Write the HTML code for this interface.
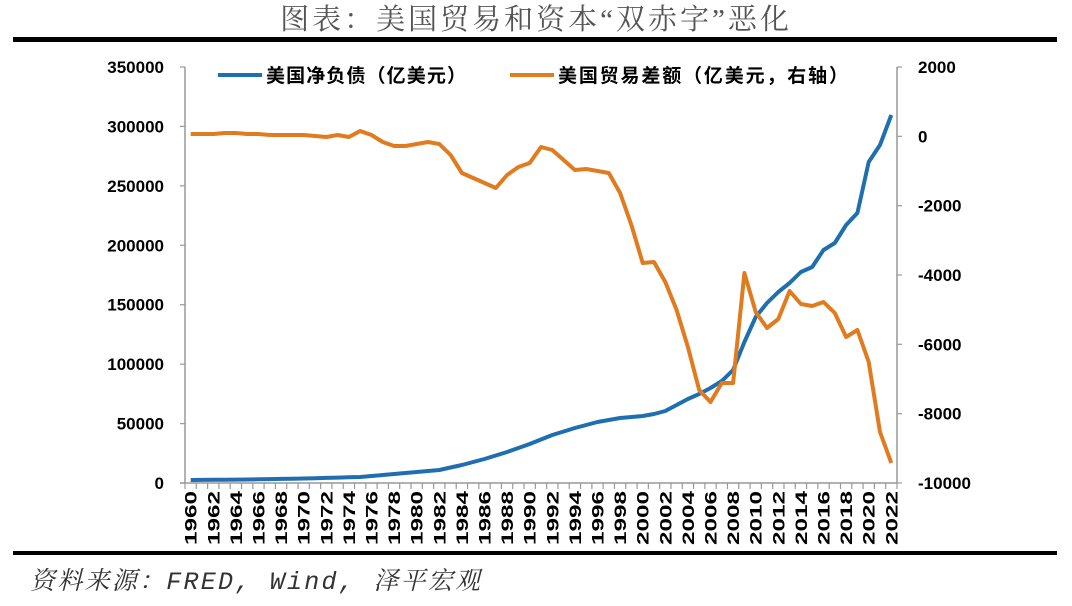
<!DOCTYPE html>
<html><head><meta charset="utf-8"><style>
body{margin:0;background:#fff;width:1072px;height:601px;overflow:hidden}
</style></head><body>
<svg width="1072" height="601" xmlns="http://www.w3.org/2000/svg" font-family="Liberation Sans, Noto Sans CJK SC, sans-serif">
<text x="536" y="29" text-anchor="middle" font-size="29" fill="#555" letter-spacing="3" font-family="Liberation Serif, Noto Serif CJK SC, serif">图表：美国贸易和资本“双赤字”恶化</text>
<rect x="13" y="37" width="1044" height="5" fill="#000"/>
<rect x="13" y="551" width="1044" height="4" fill="#000"/>
<text x="30" y="589" font-size="25" font-style="italic" fill="#333" textLength="450" font-family="Liberation Mono, Noto Serif CJK SC, monospace">资料来源：FRED, Wind, 泽平宏观</text>
<g stroke="#999" stroke-width="1.5" fill="none">
<line x1="185" y1="67" x2="185" y2="483"/>
<line x1="897" y1="67" x2="897" y2="483"/>
<line x1="180" y1="483" x2="897" y2="483"/>
</g>
<g id="tk" stroke="#999" stroke-width="1.2"></g>
<g font-size="17" font-weight="bold" fill="#000" text-anchor="end" id="yl"></g>
<g font-size="17" font-weight="bold" fill="#000" text-anchor="start" id="yr"></g>
<g font-size="17" font-weight="bold" fill="#000" id="xl"></g>
<line x1="218" y1="75" x2="262" y2="75" stroke="#1f6fb0" stroke-width="4"/>
<text x="266" y="82" font-size="19" font-weight="bold" textLength="200">美国净负债（亿美元）</text>
<line x1="510" y1="75" x2="554" y2="75" stroke="#e07b1f" stroke-width="4"/>
<text x="558" y="82" font-size="19" font-weight="bold" textLength="290">美国贸易差额（亿美元，右轴）</text>
<polyline id="bl" fill="none" stroke="#1f6fb0" stroke-width="4" stroke-linejoin="round"/>
<polyline id="or" fill="none" stroke="#e07b1f" stroke-width="4" stroke-linejoin="round"/>
</svg>
<script>
var ns="http://www.w3.org/2000/svg";
function el(p,t,a,txt){var e=document.createElementNS(ns,t);for(var k in a)e.setAttribute(k,a[k]);if(txt)e.textContent=txt;document.getElementById(p).appendChild(e);}
for(var i=0;i<=7;i++){var y=483-i*59.43;el('yl','text',{x:164,y:y+6},String(i*50000));el('tk','line',{x1:180,y1:y,x2:185,y2:y});}
for(var i=0;i<=6;i++){var y=67+i*69.33;el('yr','text',{x:918,y:y+6},String(2000-i*2000));el('tk','line',{x1:897,y1:y,x2:902,y2:y});}
var w=712/63;
for(var i=0;i<=63;i++){var x=185+i*w;el('tk','line',{x1:x,y1:483,x2:x,y2:489});}
for(var i=0;i<63;i+=2){var x=185+(i+0.5)*w+6;el('xl','text',{x:x,y:545,textLength:54,lengthAdjust:'spacingAndGlyphs',transform:'rotate(-90 '+x+' 545)'},String(1960+i));}
var B={1960:480,1965:479.5,1970:478.5,1975:477,1980:472,1982:470,1984:465,1986:459,1988:452,1990:444,1992:435,1994:428,1996:422,1998:418,2000:416,2001:414,2002:411,2003:405,2004:399,2005:394,2006:388,2007:381,2008:370,2009:342,2010:317,2011:303,2012:292,2013:283,2014:272,2015:267,2016:250,2017:243,2018:225,2019:213,2020:162,2021:145,2022:115};
var O=[134,134,134,133,133,134,134,135,135,135,135,136,137,135,137,131,135,142,146,146,144,142,144,155,173,178,183,188,175,167,163,147,150,160,170,169,171,173,193,225,263,262,282,310,347,390,402,383,383,273,312,328,319,291,304,306,302,313,337,330,362,432,463];
var yrs=Object.keys(B).map(Number),pb=[];
for(var y=1960;y<=2022;y++){var v;for(var j=0;j<yrs.length-1;j++){if(y>=yrs[j]&&y<=yrs[j+1]){v=B[yrs[j]]+(B[yrs[j+1]]-B[yrs[j]])*(y-yrs[j])/(yrs[j+1]-yrs[j]);break;}}pb.push((185+(y-1960+0.5)*w).toFixed(1)+','+v.toFixed(1));}
document.getElementById('bl').setAttribute('points',pb.join(' '));
document.getElementById('or').setAttribute('points',O.map(function(v,i){return (185+(i+0.5)*w).toFixed(1)+','+v}).join(' '));
</script>
</body></html>
